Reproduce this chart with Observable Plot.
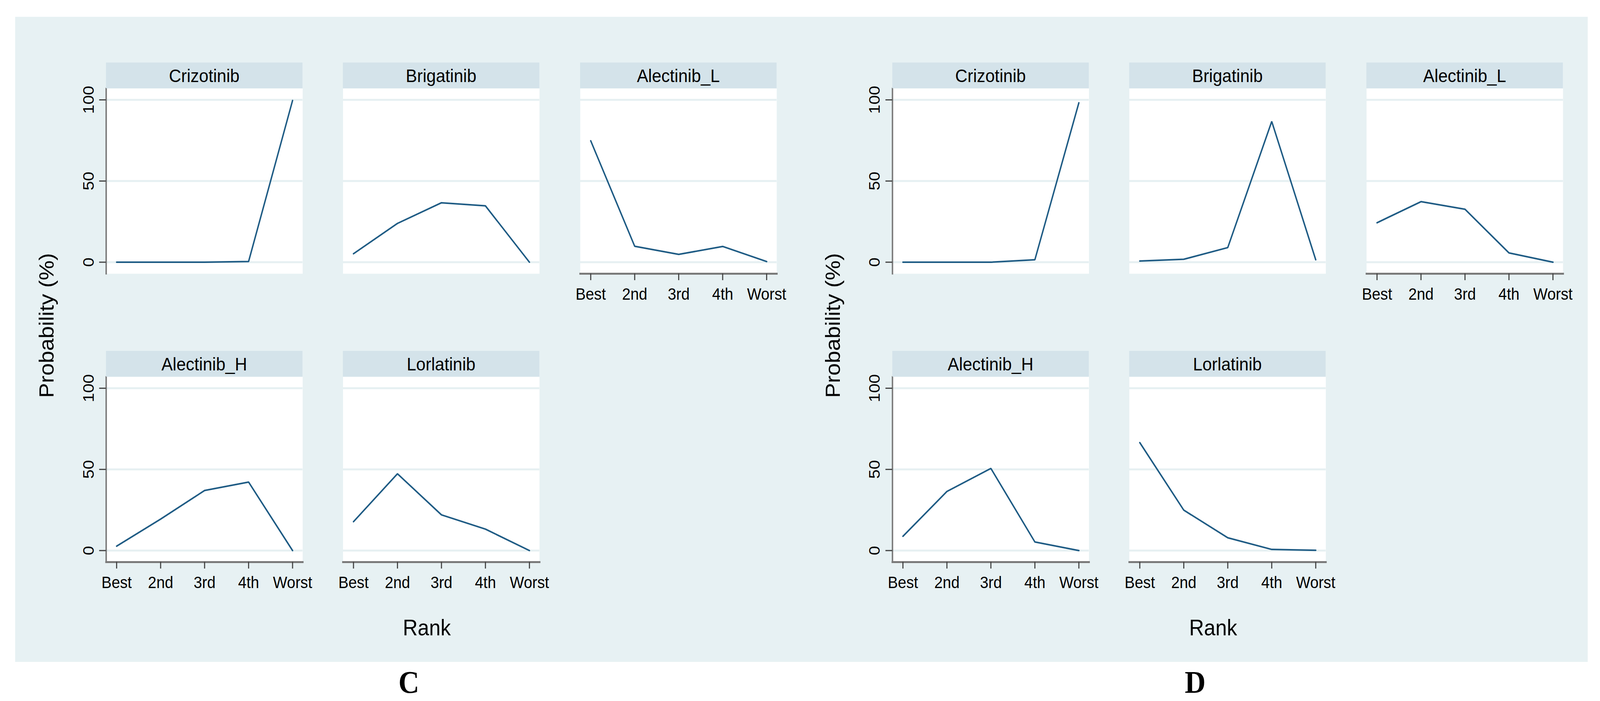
<!DOCTYPE html>
<html>
<head>
<meta charset="utf-8">
<script src="https://cdn.jsdelivr.net/npm/d3@7"></script>
<script src="https://cdn.jsdelivr.net/npm/@observablehq/plot@0.6"></script>
<style>
  html, body { margin: 0; padding: 0; background: #ffffff; overflow: hidden; }
  #page { position: relative; width: 4438px; height: 1794px; background: #ffffff; overflow: hidden; font-family: "Liberation Sans", Arial, sans-serif; transform-origin: 0 0; }
  #bg { position: absolute; left: 42px; top: 43px; width: 4362px; height: 1651px; background: #e7f1f3; }
  .strip { position: absolute; height: 66px; background: #d4e3ea; color: #000; font-size: 47px; display: flex; align-items: center; justify-content: center; line-height: 1; }
  .panel { position: absolute; }
  .ytitle { position: absolute; font-size: 57px; white-space: nowrap; transform: translate(-50%, -50%) rotate(-90deg); color: #000; }
  .xtitle { position: absolute; font-size: 57px; line-height: 57px; white-space: nowrap; transform: translateX(-50%); color: #000; }
  .letter { position: absolute; font-family: "Liberation Serif", "Times New Roman", serif; font-weight: bold; font-size: 80px; line-height: 80px; transform: translateX(-50%); color: #000; }
</style>
</head>
<body>
<div id="page"><div id="bg"></div></div>
<script>
// ---- data ----
const ranks = ["Best", "2nd", "3rd", "4th", "Worst"];
const treatments = ["Crizotinib", "Brigatinib", "Alectinib_L", "Alectinib_H", "Lorlatinib"];
const yTicks = [0, 50, 100];
const figureLabels = ["C", "D"];

// Panel C
const cCrizotinib = [0, 0, 0, 0.4, 99.6];
const cBrigatinib = [5.2, 23.9, 36.6, 34.7, 0];
const cAlectinibL = [74.8, 9.8, 4.8, 9.7, 0.4];
const cAlectinibH = [2.7, 19.4, 37.0, 42.2, 0];
const cLorlatinib = [17.8, 47.3, 22.0, 13.2, 0];

// Panel D
const dCrizotinib = [0, 0, 0, 1.5, 98.2];
const dBrigatinib = [0.7, 1.8, 9.0, 86.7, 1.5];
const dAlectinibL = [24.3, 37.3, 32.6, 5.7, 0];
const dAlectinibH = [8.8, 36.4, 50.6, 5.3, 0];
const dLorlatinib = [66.5, 24.9, 7.9, 0.7, 0.2];

const seriesC = [cCrizotinib, cBrigatinib, cAlectinibL, cAlectinibH, cLorlatinib];
const seriesD = [dCrizotinib, dBrigatinib, dAlectinibL, dAlectinibH, dLorlatinib];

// ---- layout ----
const page = document.getElementById("page");
// fit the 4438-wide design into the actual viewport
const sx = Math.min(1, (window.innerWidth || 4438) / 4438);
const sy = Math.min(1, (window.innerHeight || 1794) / 1794);
page.style.transform = `scale(${sx}, ${sy})`;

const panelW = 545, panelH = 474, stripH = 66;
const colLeft = [294, 951, 1609];
const rowTop = [226, 964];
const groupOffset = [0, 2181];
const mL = 220, mB = 130;
const lineColor = "#1e5b84";
const axisColor = "#7a7a7a";
const tickColor = "#404040";
const gridColor = "#e6f0f2";

function panel(values, name, idx, g) {
  const row = idx < 3 ? 0 : 1;
  const col = idx < 3 ? idx : idx - 3;
  const left = colLeft[col] + groupOffset[g];
  const top = rowTop[row];
  const showY = col === 0;
  const showX = row === 1 || col === 2;
  const rows = ranks.map((r, i) => ({rank: r, p: values[i]}));

  const marks = [
    Plot.frame({fill: "white", stroke: null}),
    Plot.gridY(yTicks, {stroke: gridColor, strokeOpacity: 1, strokeWidth: 5}),
    Plot.line(rows, {x: "rank", y: "p", stroke: lineColor, strokeWidth: 4, strokeLinejoin: "miter"})
  ];
  if (showY) {
    marks.push(Plot.frame({anchor: "left", stroke: axisColor, strokeWidth: 4}));
    marks.push(Plot.axisY(yTicks, {label: null, tickSize: 19, tickPadding: 16, tickRotate: -90, fontSize: 43, stroke: tickColor, strokeWidth: 3, fill: "#000"}));
  }
  if (showX) {
    marks.push(Plot.frame({anchor: "bottom", stroke: axisColor, strokeWidth: 5}));
    marks.push(Plot.axisX({label: null, tickSize: 17, tickPadding: 20, fontSize: 42, stroke: tickColor, strokeWidth: 3, fill: "#000"}));
  }

  const svg = Plot.plot({
    width: panelW + mL,
    height: panelH + mB,
    marginLeft: mL, marginRight: 0, marginTop: 0, marginBottom: mB,
    style: {background: "transparent", fontFamily: "Liberation Sans, Arial, sans-serif", color: "#000", overflow: "visible", maxWidth: "none"},
    x: {type: "point", domain: ranks, padding: 0.23, axis: null, label: null},
    y: {domain: [-7.1, 107], axis: null, label: null},
    marks
  });
  const wrap = document.createElement("div");
  wrap.className = "panel";
  wrap.style.left = (left - mL) + "px";
  wrap.style.top = top + "px";
  wrap.appendChild(svg);
  page.appendChild(wrap);

  const strip = document.createElement("div");
  strip.className = "strip";
  strip.style.left = left + "px";
  strip.style.top = (top - stripH) + "px";
  strip.style.width = panelW + "px";
  strip.textContent = name;
  page.appendChild(strip);
}

[seriesC, seriesD].forEach((series, g) => {
  series.forEach((vals, i) => panel(vals, treatments[i], i, g));

  const yt = document.createElement("div");
  yt.className = "ytitle";
  yt.style.left = (128 + groupOffset[g]) + "px";
  yt.style.top = "833px";
  yt.textContent = "Probability (%)";
  page.appendChild(yt);

  const xt = document.createElement("div");
  xt.className = "xtitle";
  xt.style.left = (1184 + groupOffset[g]) + "px";
  xt.style.top = "1578px";
  xt.textContent = "Rank";
  page.appendChild(xt);

  const lab = document.createElement("div");
  lab.className = "letter";
  lab.style.left = (1134 + groupOffset[g]) + "px";
  lab.style.top = "1706px";
  lab.textContent = figureLabels[g];
  page.appendChild(lab);
});
</script>
</body>
</html>
